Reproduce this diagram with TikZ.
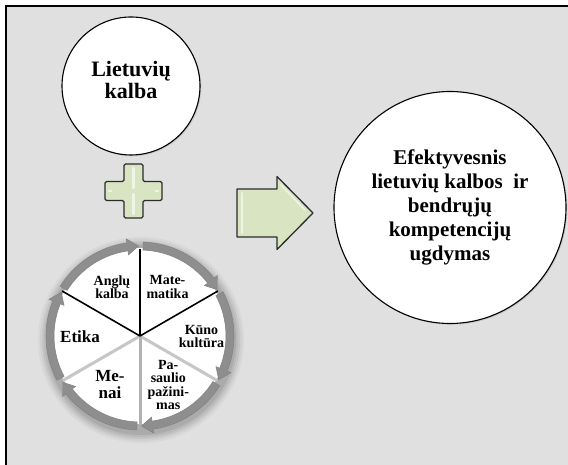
\documentclass[tikz,border=0pt]{standalone}
\usepackage{fontspec}
\setmainfont{Liberation Serif}
\usetikzlibrary{shadows}

\definecolor{bggray}{HTML}{E0E0E0}
\definecolor{leaf}{HTML}{D8E4C2}
\definecolor{leafedge}{HTML}{2B2B2B}
\definecolor{tubeD}{HTML}{8E8E8E}
\definecolor{tubeM}{HTML}{C4C4C4}
\definecolor{tubeL}{HTML}{F7F7F7}
\definecolor{tubeLine}{HTML}{858585}

% tube look for the ring segments (radius 99 maps to 50bp)
\pgfdeclareradialshading{tube}{\pgfpoint{0bp}{0bp}}{%
  color(0bp)=(tubeD); color(41bp)=(tubeD); color(43.2bp)=(tubeM);
  color(45.5bp)=(tubeL); color(47.7bp)=(tubeM); color(50bp)=(tubeD)}

% soft grey rim on the pie
\pgfdeclareradialshading{pierim}{\pgfpoint{0bp}{0bp}}{%
  color(0bp)=(white); color(36bp)=(white); color(43bp)=(white!88!black);
  color(50bp)=(white!80!black)}

% one arrow segment of the ring, tip at angle #1, running clockwise
\newcommand\wheelseg[1]{(#1+58:94) arc[start angle=#1+58, end angle=#1+8, radius=94]
  -- (#1+8:98) -- (#1+1:90) -- (#1+8:82) -- (#1+8:86)
  arc[start angle=#1+8, end angle=#1+58, radius=86] -- cycle}

\begin{document}
\begin{tikzpicture}[x=1pt,y=1pt,
  bubble/.style={circle, draw=black, line width=1.1pt, fill=white, inner sep=0pt,
    drop shadow={shadow xshift=1.2pt, shadow yshift=-1.2pt, opacity=0.25}},
  bigtext/.style={align=center, inner sep=0pt,
    font=\fontsize{21}{24.2}\selectfont\bfseries},
  toptext/.style={align=center, inner sep=0pt,
    font=\fontsize{22}{21.5}\selectfont\bfseries},
  lab/.style={align=center, inner sep=0pt,
    font=\fontsize{14}{13.2}\selectfont\bfseries},
  biglab/.style={align=center, inner sep=0pt,
    font=\fontsize{17}{17}\selectfont\bfseries},
  leafshape/.style={fill=leaf, draw=leafedge, line width=1.3pt, line join=round},
  gleam/.style={white, opacity=0.6, line cap=round},
  spoke/.style={black, line width=1.6pt},
  softspoke/.style={gray!45, line width=3pt}]

\useasboundingbox (0,0) rectangle (568,465);
\fill[white] (0,0) rectangle (568,465);
\fill[bggray] (6.2,0) rectangle (568,458.8);
\draw[line width=2.3pt, line join=miter] (6.2,-3) -- (6.2,458.8) -- (571,458.8);

% input and result
\node[bubble, minimum size=138] (lt) at (131,379) {};
\node[toptext] (ltx) at (131,385) {Lietuvių\\kalba};
\node[bubble, minimum size=232, bigtext] (res) at (450,257.5)
  {Efektyvesnis\\lietuvių kalbos\ \ ir\\bendrųjų\\kompetencijų\\ugdymas};

% plus sign
\coordinate (plus) at (133.5,274);
\begin{scope}[shift={(plus)}]
  \draw[leafshape, rounded corners=1.5pt]
    (-9.5,27) -- (9.5,27) -- (9.5,9.5) -- (28.5,9.5) -- (28.5,-9.5) -- (9.5,-9.5)
    -- (9.5,-27) -- (-9.5,-27) -- (-9.5,-9.5) -- (-28.5,-9.5) -- (-28.5,9.5)
    -- (-9.5,9.5) -- cycle;
  \draw[gleam, line width=2.5pt] (0,23) -- (0,3) (0,-3) -- (0,-23);
  \draw[gleam, line width=1.5pt] (-25,0) -- (-22,0) (22,0) -- (25,0);
\end{scope}

% arrow towards the result
\draw[leafshape] (237,228) -- (277,228) -- (277,215.5) -- (313,252)
  -- (277,288.5) -- (277,276) -- (237,276) -- cycle;
\draw[gleam, line width=2pt] (242,272) -- (242,232);
\draw[gleam, line width=1.5pt] (281,280) -- (305,255);

% subject wheel
\begin{scope}[shift={(140,129)}]
  \foreach \r/\o in {95/0.07,97/0.06,99/0.05,101/0.04,103/0.03}
    \fill[black, opacity=\o] (1,-4) circle[radius=\r];
  \shade[shading=pierim] (0,0) circle[radius=88];
  \fill[white] (0,0) -- (30:88) arc[start angle=30, end angle=150, radius=88] -- cycle;
  \draw[softspoke] (0,0) -- (-30:89);
  \draw[softspoke] (0,0) -- (210:89);
  \draw[softspoke, gray!60] (0,0) -- (-90:89);
  \draw[spoke] (0,0) -- (150:90);
  \draw[spoke] (0,0) -- (30:90);
  \draw[spoke, line width=2.4pt] (0,0) -- (90:87);
  \foreach \b in {90,30,-30,-90,-150,150} {
    \begin{scope}
      \clip \wheelseg{\b};
      \shade[shading=tube] (0,0) circle[radius=99];
    \end{scope}
    \draw[tubeLine, line width=0.6pt] \wheelseg{\b};
  }
\end{scope}

\node[lab] (ang) at (112,177.5) {Anglų\\kalba};
\node[lab] (mat) at (167.5,178) {Mate-\\matika};
\node[lab] (kun) at (201.5,128.5) {Kūno\\kultūra};
\node[biglab] (eti) at (80,128) {Etika};
\node[biglab] (men) at (110,80.5) {Me-\\nai};
\node[lab, font=\fontsize{14}{13.2}\selectfont\bfseries] (pas) at (168.3,80)
  {Pa-\\saulio\\pažini-\\mas};

\end{tikzpicture}
\end{document}
